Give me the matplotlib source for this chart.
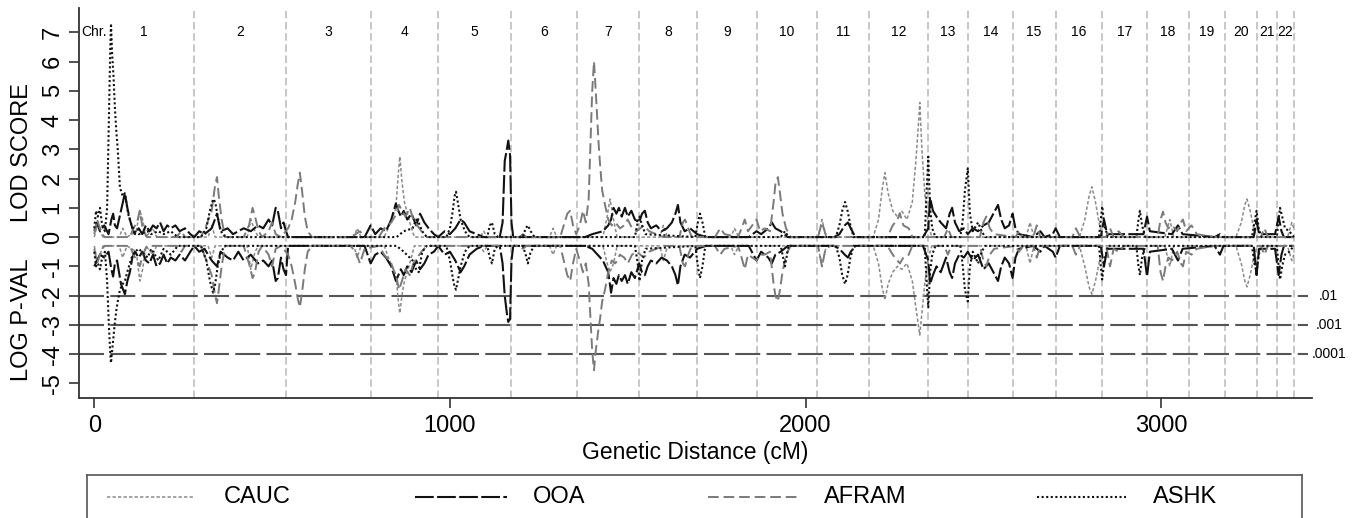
import matplotlib.pyplot as plt

plt.rcParams['font.family'] = ['Liberation Sans', 'DejaVu Sans']
plt.rcParams['axes.unicode_minus'] = False

# -----------------------------
# DATA
# -----------------------------
# chromosome boundaries along the genome (cM)
CHR_EDGES = [0, 281, 539, 777, 967, 1172, 1358, 1532, 1695, 1862, 2033, 2179,
             2345, 2456, 2582, 2703, 2834, 2960, 3077, 3178, 3268, 3326, 3373]
CHR_NAMES = [str(i) for i in range(1, 23)]

# significance lines (log10 p-value) and their labels
P_LEVELS = [-2, -3, -4]
P_LABELS = [".01", ".001", ".0001"]

X_TICKS = [0, 1000, 2000, 3000]
Y_TICKS = [7, 6, 5, 4, 3, 2, 1, 0, -1, -2, -3, -4, -5]

# (position cM, LOD score, log10 p-value)
CAUC = [
    (0, 0.0, -0.3), (8, 0.4, -0.8), (16, 0.2, -0.6), (25, 0.0, -0.3), (70, 0.0, -0.3),
    (80, 0.3, -0.7), (92, 0.0, -0.3), (118, 0.2, -0.5), (128, 0.9, -1.5), (136, 0.6, -1.1),
    (145, 0.0, -0.3), (165, 0.3, -0.6), (175, 0.0, -0.3), (320, 0.0, -0.3), (330, 0.4, -0.7),
    (340, 0.0, -0.3), (430, 0.0, -0.3), (440, 0.6, -1.1), (452, 0.2, -0.5), (462, 0.0, -0.3),
    (730, 0.0, -0.3), (739, 0.3, -0.7), (750, 0.0, -0.3), (815, 0.0, -0.3), (830, 0.4, -0.8),
    (848, 1.0, -1.3), (855, 2.2, -2.2), (859, 2.75, -2.6), (865, 1.9, -2.0), (872, 1.2, -1.5),
    (887, 0.5, -0.9), (900, 0.0, -0.3), (1085, 0.0, -0.3), (1095, 0.2, -0.5), (1105, 0.0, -0.3),
    (1280, 0.0, -0.3), (1290, 0.3, -0.6), (1300, 0.0, -0.3), (1430, 0.0, -0.3), (1442, 0.7, -0.9),
    (1450, 1.3, -1.2), (1460, 0.6, -0.9), (1470, 0.0, -0.3), (1590, 0.0, -0.3), (1600, 0.4, -0.8),
    (1612, 0.0, -0.3), (1790, 0.0, -0.3), (1800, 0.3, -0.6), (1812, 0.0, -0.3), (2035, 0.0, -0.3),
    (2046, 0.6, -1.0), (2058, 0.0, -0.3), (2190, 0.0, -0.3), (2205, 0.6, -0.9), (2215, 1.6, -1.7),
    (2223, 2.2, -2.15), (2232, 1.5, -1.6), (2245, 0.9, -1.2), (2258, 0.7, -1.0), (2270, 0.9, -1.1),
    (2285, 0.6, -0.9), (2300, 1.2, -1.5), (2310, 2.6, -2.4), (2317, 3.8, -3.0), (2321, 4.6, -3.35),
    (2327, 3.0, -2.6), (2335, 1.5, -1.6), (2345, 0.4, -0.7), (2355, 0.0, -0.3), (2620, 0.0, -0.3),
    (2631, 0.5, -0.9), (2642, 0.0, -0.3), (2770, 0.0, -0.3), (2785, 0.6, -1.0), (2797, 1.4, -1.7),
    (2805, 1.72, -1.95), (2815, 1.2, -1.5), (2825, 0.5, -0.9), (2835, 0.0, -0.3), (3010, 0.0, -0.3),
    (3024, 0.6, -1.0), (3035, 0.0, -0.3), (3210, 0.0, -0.3), (3225, 0.5, -0.9), (3235, 1.1, -1.5),
    (3241, 1.3, -1.7), (3250, 0.9, -1.3), (3260, 0.3, -0.7), (3270, 0.0, -0.3), (3355, 0.0, -0.3),
    (3367, 0.5, -0.8), (3373, 0.3, -0.6),
]

OOA = [
    (0, 0.2, -1.0), (8, 0.5, -0.8), (16, 0.2, -0.6), (28, 0.4, -0.7), (40, 0.1, -0.5),
    (48, 0.6, -1.1), (53, 0.8, -1.35), (58, 0.4, -0.9), (64, 0.3, -0.8), (75, 0.9, -1.6),
    (86, 1.5, -1.95), (93, 1.0, -1.5), (100, 0.6, -1.2), (107, 0.3, -0.7), (114, 0.1, -0.5),
    (125, 0.3, -0.7), (135, 0.1, -0.5), (145, 0.4, -0.8), (155, 0.2, -0.9), (165, 0.4, -0.6),
    (175, 0.3, -1.0), (185, 0.5, -0.9), (195, 0.2, -0.6), (205, 0.4, -0.9), (215, 0.3, -0.7),
    (228, 0.4, -0.8), (240, 0.2, -0.6), (255, 0.3, -0.8), (270, 0.1, -0.5), (281, 0.0, -0.3),
    (295, 0.2, -0.5), (310, 0.1, -0.4), (330, 0.3, -0.8), (345, 0.8, -1.0), (355, 0.2, -0.5),
    (375, 0.3, -0.7), (390, 0.1, -0.8), (405, 0.2, -0.5), (420, 0.3, -0.8), (440, 0.2, -0.6),
    (460, 0.4, -0.9), (475, 0.3, -0.8), (490, 0.6, -1.0), (500, 0.4, -0.8), (510, 1.0, -1.5),
    (516, 0.9, -1.4), (525, 0.3, -0.7), (532, 0.5, -1.1), (539, 0.2, -1.3), (545, 0.0, -0.3),
    (760, 0.0, -0.3), (777, 0.4, -0.9), (790, 0.1, -0.6), (805, 0.3, -0.5), (820, 0.2, -0.7),
    (835, 0.6, -1.0), (848, 1.15, -1.5), (855, 0.9, -1.3), (862, 0.7, -1.1), (870, 0.9, -1.3),
    (880, 0.6, -1.0), (892, 0.8, -1.2), (905, 0.4, -0.8), (916, 0.8, -1.1), (928, 0.5, -0.9),
    (940, 0.3, -0.6), (955, 0.1, -0.5), (967, 0.0, -0.3), (985, 0.2, -0.6), (1000, 0.1, -0.5),
    (1015, 0.3, -0.8), (1030, 0.6, -1.2), (1040, 0.5, -1.0), (1055, 0.2, -0.6), (1075, 0.1, -0.4),
    (1095, 0.0, -0.3), (1140, 0.0, -0.3), (1148, 0.5, -0.9), (1154, 2.6, -2.0), (1160, 3.0, -2.6),
    (1164, 3.3, -2.9), (1169, 2.8, -2.8), (1173, 0.5, -0.8), (1178, 0.0, -0.3), (1380, 0.0, -0.3),
    (1400, 0.1, -0.4), (1430, 0.2, -0.8), (1445, 0.4, -1.2), (1453, 0.6, -1.9), (1460, 1.0, -1.4),
    (1468, 0.8, -1.6), (1475, 1.0, -1.3), (1483, 0.7, -1.5), (1492, 1.0, -1.3), (1500, 0.7, -1.6),
    (1510, 0.9, -1.2), (1520, 0.6, -1.4), (1532, 0.5, -0.9), (1540, 0.8, -1.2), (1548, 0.9, -1.3),
    (1556, 0.5, -1.0), (1565, 0.3, -0.8), (1580, 0.4, -0.9), (1595, 0.2, -0.7), (1610, 0.3, -0.8),
    (1624, 0.5, -1.0), (1634, 0.8, -1.3), (1641, 1.1, -1.65), (1648, 0.5, -1.0), (1660, 0.2, -0.6),
    (1675, 0.3, -0.7), (1695, 0.1, -0.4), (1720, 0.0, -0.3), (1840, 0.0, -0.3), (1862, 0.2, -0.8),
    (1875, 0.1, -0.5), (1895, 0.3, -0.7), (1905, 0.5, -0.9), (1915, 0.3, -0.6), (1930, 0.2, -0.5),
    (1950, 0.0, -0.3), (2080, 0.0, -0.3), (2095, 0.1, -0.4), (2110, 0.4, -0.6), (2119, 0.5, -0.7),
    (2127, 0.3, -0.5), (2140, 0.0, -0.3), (2330, 0.0, -0.3), (2345, 0.3, -0.8), (2350, 1.35, -1.6),
    (2358, 0.9, -1.3), (2368, 0.7, -1.0), (2380, 0.5, -1.2), (2395, 0.3, -0.7), (2405, 0.8, -1.2),
    (2412, 1.0, -1.4), (2420, 0.5, -0.9), (2432, 0.2, -0.6), (2445, 0.3, -0.7), (2456, 0.1, -0.5),
    (2470, 0.3, -0.8), (2485, 0.2, -0.6), (2500, 0.4, -1.1), (2515, 0.5, -0.9), (2528, 0.8, -1.2),
    (2541, 1.1, -1.5), (2550, 0.6, -1.0), (2560, 0.3, -0.7), (2572, 0.4, -0.9), (2582, 0.8, -1.4),
    (2590, 0.3, -0.7), (2600, 0.1, -0.4), (2640, 0.0, -0.3), (2660, 0.2, -0.5), (2672, 0.0, -0.3),
    (2695, 0.1, -0.5), (2703, 0.3, -0.7), (2715, 0.0, -0.3), (2830, 0.0, -0.3), (2839, 0.6, -1.0),
    (2848, 0.1, -0.4), (2950, 0.1, -0.4), (2960, 0.7, -1.35), (2968, 0.2, -0.5), (3030, 0.1, -0.4),
    (3047, 0.4, -0.8), (3060, 0.1, -0.4), (3150, 0.0, -0.3), (3165, 0.1, -0.6), (3175, 0.0, -0.3),
    (3260, 0.0, -0.3), (3268, 0.6, -1.3), (3275, 0.1, -0.4), (3320, 0.1, -0.4), (3330, 0.7, -1.3),
    (3338, 0.2, -0.6), (3345, 0.0, -0.3), (3373, 0.0, -0.3),
]

AFRAM = [
    (0, 0.1, -0.4), (8, 0.6, -0.9), (16, 0.3, -0.6), (28, 0.0, -0.3), (100, 0.0, -0.3),
    (110, 0.3, -0.6), (120, 0.5, -0.8), (128, 0.9, -1.0), (136, 0.3, -0.6), (148, 0.0, -0.3),
    (230, 0.0, -0.3), (245, 0.2, -0.5), (255, 0.0, -0.3), (300, 0.0, -0.3), (315, 0.4, -0.8),
    (330, 0.9, -1.3), (340, 1.8, -2.0), (345, 2.05, -2.26), (350, 1.4, -1.8), (358, 0.6, -1.0),
    (368, 0.0, -0.3), (420, 0.0, -0.3), (435, 0.4, -0.9), (445, 1.0, -1.4), (452, 0.7, -1.2),
    (462, 0.2, -0.5), (472, 0.0, -0.3), (490, 0.2, -0.6), (500, 0.5, -1.0), (510, 0.1, -0.4),
    (525, 0.0, -0.3), (545, 0.3, -0.6), (555, 0.6, -1.0), (565, 1.2, -1.6), (572, 1.8, -2.1),
    (578, 2.2, -2.4), (584, 1.6, -1.9), (592, 0.7, -1.1), (600, 0.2, -0.5), (612, 0.0, -0.3),
    (720, 0.0, -0.3), (735, 0.1, -0.5), (747, 0.2, -0.9), (760, 0.0, -0.4), (800, 0.0, -0.3),
    (815, 0.3, -0.6), (835, 0.5, -0.9), (850, 0.8, -1.4), (857, 1.1, -1.8), (865, 0.9, -1.5),
    (875, 0.7, -1.1), (887, 1.0, -1.3), (897, 0.6, -0.9), (908, 0.4, -0.7), (920, 0.2, -0.5),
    (935, 0.0, -0.3), (1195, 0.0, -0.3), (1205, 0.1, -0.4), (1215, 0.0, -0.3), (1310, 0.0, -0.3),
    (1320, 0.4, -0.8), (1330, 0.8, -1.3), (1338, 0.9, -1.5), (1346, 0.4, -0.9), (1355, 0.1, -0.4),
    (1365, 0.4, -0.8), (1374, 0.9, -1.2), (1382, 0.5, -0.9), (1390, 1.3, -1.6), (1396, 3.5, -3.0),
    (1400, 5.0, -3.9), (1405, 6.0, -4.55), (1409, 5.2, -4.0), (1413, 4.3, -3.6), (1418, 3.2, -3.1),
    (1422, 2.5, -2.8), (1428, 1.6, -2.2), (1436, 1.1, -1.8), (1445, 0.6, -1.2), (1455, 0.4, -0.8),
    (1465, 0.5, -0.9), (1478, 0.3, -0.6), (1490, 0.4, -0.7), (1500, 0.6, -0.9), (1512, 0.3, -0.6),
    (1525, 0.2, -0.5), (1545, 0.4, -0.7), (1560, 0.2, -0.5), (1600, 0.0, -0.3), (1645, 0.0, -0.3),
    (1655, 0.5, -0.9), (1661, 0.6, -1.0), (1670, 0.3, -0.6), (1680, 0.0, -0.3), (1745, 0.0, -0.3),
    (1760, 0.3, -0.6), (1772, 0.1, -0.4), (1810, 0.0, -0.3), (1820, 0.3, -0.7), (1829, 0.6, -1.1),
    (1838, 0.2, -0.6), (1850, 0.4, -0.7), (1862, 0.6, -0.8), (1872, 0.2, -0.6), (1885, 0.3, -0.6),
    (1900, 0.2, -0.5), (1910, 1.2, -1.6), (1915, 1.8, -2.0), (1922, 2.05, -2.2), (1928, 1.5, -1.8),
    (1935, 0.8, -1.2), (1945, 0.3, -0.6), (1958, 0.0, -0.3), (2035, 0.0, -0.3), (2046, 0.5, -1.0),
    (2056, 0.1, -0.4), (2070, 0.0, -0.3), (2230, 0.0, -0.3), (2245, 0.4, -0.6), (2258, 0.6, -0.8),
    (2265, 0.8, -0.9), (2275, 0.4, -0.7), (2290, 0.3, -0.6), (2300, 0.0, -0.3), (2390, 0.0, -0.3),
    (2400, 0.3, -0.6), (2410, 0.0, -0.3), (2490, 0.0, -0.3), (2500, 0.5, -0.8), (2508, 0.7, -1.0),
    (2518, 0.3, -0.6), (2530, 0.1, -0.4), (2590, 0.0, -0.3), (2600, 0.2, -0.5), (2612, 0.0, -0.3),
    (2640, 0.0, -0.3), (2650, 0.4, -0.7), (2660, 0.0, -0.3), (2750, 0.0, -0.3), (2760, 0.3, -0.6),
    (2772, 0.0, -0.3), (2845, 0.0, -0.3), (2856, 0.3, -1.0), (2866, 0.0, -0.4), (2880, 0.2, -0.5),
    (2895, 0.0, -0.3), (2990, 0.0, -0.3), (2998, 0.6, -1.2), (3005, 0.87, -1.5), (3012, 0.5, -1.0),
    (3020, 0.3, -0.7), (3030, 0.4, -0.8), (3045, 0.2, -0.5), (3055, 0.5, -0.9), (3061, 0.6, -1.0),
    (3070, 0.2, -0.5), (3085, 0.4, -0.6), (3100, 0.1, -0.4), (3150, 0.0, -0.3), (3280, 0.0, -0.3),
    (3290, 0.3, -0.6), (3300, 0.0, -0.3), (3373, 0.0, -0.3),
]

ASHK = [
    (0, 0.3, -0.5), (5, 0.9, -1.0), (10, 0.7, -0.9), (16, 1.0, -1.1), (22, 0.4, -0.7),
    (30, 0.2, -0.5), (36, 1.0, -1.5), (41, 4.0, -3.0), (45, 6.5, -4.0), (47, 7.3, -4.3),
    (50, 6.3, -3.9), (54, 5.5, -3.4), (58, 4.4, -2.9), (62, 3.6, -2.5), (66, 3.0, -2.2),
    (72, 1.7, -1.8), (80, 1.4, -1.6), (86, 1.5, -1.5), (95, 0.8, -1.1), (105, 0.4, -0.7),
    (114, 0.2, -0.5), (125, 0.1, -0.4), (150, 0.2, -0.7), (160, 0.1, -0.4), (180, 0.2, -0.8),
    (195, 0.1, -0.4), (215, 0.2, -0.6), (235, 0.0, -0.3), (300, 0.0, -0.3), (315, 0.3, -0.8),
    (325, 0.9, -1.5), (334, 1.3, -1.9), (340, 1.2, -1.6), (347, 0.7, -1.0), (356, 0.2, -0.5),
    (368, 0.0, -0.3), (850, 0.0, -0.3), (870, 0.2, -0.5), (895, 0.3, -0.8), (905, 0.6, -1.1),
    (912, 0.5, -1.2), (922, 0.2, -0.5), (935, 0.0, -0.3), (990, 0.0, -0.3), (1000, 0.3, -0.8),
    (1008, 0.9, -1.4), (1013, 1.4, -1.7), (1017, 1.55, -1.8), (1022, 1.2, -1.5), (1030, 0.6, -1.0),
    (1042, 0.2, -0.5), (1055, 0.0, -0.3), (1105, 0.0, -0.3), (1112, 0.4, -0.7), (1118, 0.5, -0.9),
    (1126, 0.1, -0.4), (1135, 0.0, -0.3), (1205, 0.0, -0.3), (1213, 0.3, -0.6), (1219, 0.4, -0.9),
    (1227, 0.2, -0.5), (1238, 0.0, -0.3), (1520, 0.0, -0.3), (1528, 0.5, -0.9), (1533, 0.7, -1.5),
    (1540, 0.4, -0.8), (1550, 0.1, -0.4), (1690, 0.0, -0.3), (1697, 0.5, -1.0), (1703, 0.8, -1.4),
    (1710, 0.5, -1.0), (1718, 0.0, -0.3), (1930, 0.0, -0.3), (1942, 0.2, -1.0), (1952, 0.0, -0.3),
    (2085, 0.0, -0.3), (2095, 0.4, -0.7), (2103, 0.9, -1.3), (2111, 1.2, -1.6), (2118, 0.9, -1.3),
    (2126, 0.4, -0.7), (2135, 0.0, -0.3), (2335, 0.0, -0.3), (2340, 1.5, -1.5), (2345, 2.75, -2.4),
    (2350, 1.0, -1.2), (2356, 0.3, -0.6), (2365, 0.0, -0.3), (2435, 0.0, -0.3), (2442, 0.6, -1.0),
    (2448, 1.6, -1.8), (2456, 2.35, -2.2), (2462, 0.8, -1.0), (2470, 0.2, -0.5), (2485, 0.5, -0.9),
    (2495, 0.2, -0.5), (2505, 0.0, -0.3), (2825, 0.0, -0.3), (2830, 0.6, -1.0), (2834, 1.05, -1.45),
    (2840, 0.4, -0.8), (2850, 0.0, -0.3), (2930, 0.0, -0.3), (2936, 0.6, -1.0), (2940, 0.9, -1.3),
    (2946, 0.4, -0.7), (2955, 0.0, -0.3), (3255, 0.0, -0.3), (3262, 0.5, -0.9), (3268, 0.9, -1.2),
    (3274, 0.3, -0.6), (3282, 0.0, -0.3), (3325, 0.0, -0.3), (3330, 0.6, -1.0), (3334, 1.0, -1.45),
    (3340, 0.7, -1.0), (3348, 0.3, -0.6), (3360, 0.2, -0.5), (3373, 0.0, -0.3),
]

# -----------------------------
# STYLE
# -----------------------------
W, H = 1362, 518
STYLES = {
    "CAUC": dict(color="#8a8a8a", lw=1.1, ls=(0, (2.2, 1.4))),
    "OOA": dict(color="#111111", lw=1.5, ls=(0, (9, 1.6))),
    "AFRAM": dict(color="#7a7a7a", lw=1.4, ls=(0, (5.5, 2.5))),
    "ASHK": dict(color="#111111", lw=1.5, ls=(0, (1, 1.2))),
}
SERIES = [("CAUC", CAUC), ("OOA", OOA), ("AFRAM", AFRAM), ("ASHK", ASHK)]

fig = plt.figure(figsize=(W / 100, H / 100), dpi=100)
ax = fig.add_axes([79 / W, (H - 398.3) / H, (1311.7 - 79) / W, (398.3 - 8) / H])

XMIN, XMAX = -43, 3423
ax.set_xlim(XMIN, XMAX)
ax.set_ylim(-5.51, 7.83)

# chromosome boundaries
for edge in CHR_EDGES[1:]:
    ax.axvline(edge, color="#bdbdbd", lw=1.2, ls=(0, (4.5, 2.2)), zorder=1)

# chromosome labels
ax.text(0, 7, "Chr.", ha="center", va="center", fontsize=10)
for i, name in enumerate(CHR_NAMES):
    mid = (CHR_EDGES[i] + CHR_EDGES[i + 1]) / 2
    ax.text(mid, 7, name, ha="center", va="center", fontsize=10)

# significance lines
for lvl, lab in zip(P_LEVELS, P_LABELS):
    ax.plot([XMIN, 3412], [lvl, lvl], color="#555555", lw=1.5,
            ls=(0, (12, 3)), zorder=2, clip_on=False)
    ax.text(3471, lvl, lab, ha="center", va="center", fontsize=10, clip_on=False)

# curves: LOD score above, log p-value below
for name, data in SERIES:
    cm = [d[0] for d in data]
    lod = [d[1] for d in data]
    logp = [d[2] for d in data]
    st = STYLES[name]
    ax.plot(cm, lod, color=st["color"], lw=st["lw"], ls=st["ls"], zorder=3)
    ax.plot(cm, logp, color=st["color"], lw=st["lw"], ls=st["ls"], zorder=3)

# axes look
for side in ["top", "right"]:
    ax.spines[side].set_visible(False)
for side in ["left", "bottom"]:
    ax.spines[side].set_color("#333333")
    ax.spines[side].set_linewidth(1.3)
ax.set_xticks(X_TICKS)
ax.set_yticks(Y_TICKS)
ax.tick_params(axis="both", length=7, width=1.2, color="#333333", labelsize=17)
ax.tick_params(axis="x", pad=5)
ax.tick_params(axis="y", pad=4)
for lab in ax.get_yticklabels():
    lab.set_rotation(90)
    lab.set_va("center")
ax.set_xlabel("Genetic Distance (cM)", fontsize=16.5, labelpad=3)

fig.text(22 / W, 1 - 152 / H, "LOD SCORE", rotation=90, ha="center", va="center", fontsize=17)
fig.text(22 / W, 1 - 320 / H, "LOG P-VAL", rotation=90, ha="center", va="center", fontsize=17)

# legend box drawn by hand, Stata style
lg = fig.add_axes([87 / W, -10 / H, (1302 - 87) / W, 53 / H])
lg.set_xlim(87, 1302)
lg.set_ylim(528, 475)
lg.set_xticks([])
lg.set_yticks([])
for s in lg.spines.values():
    s.set_color("#555555")
    s.set_linewidth(1.2)
HANDLE_X = [(107, 193), (415, 507), (708, 798), (1037, 1126)]
TEXT_X = [224, 533, 824, 1153]
for (name, _), (x0, x1), tx in zip(SERIES, HANDLE_X, TEXT_X):
    st = STYLES[name]
    lg.plot([x0, x1], [497, 497], color=st["color"], lw=st["lw"], ls=st["ls"])
    lg.text(tx, 497, name, ha="left", va="center", fontsize=17)

fig.savefig("out.png", dpi=100)
